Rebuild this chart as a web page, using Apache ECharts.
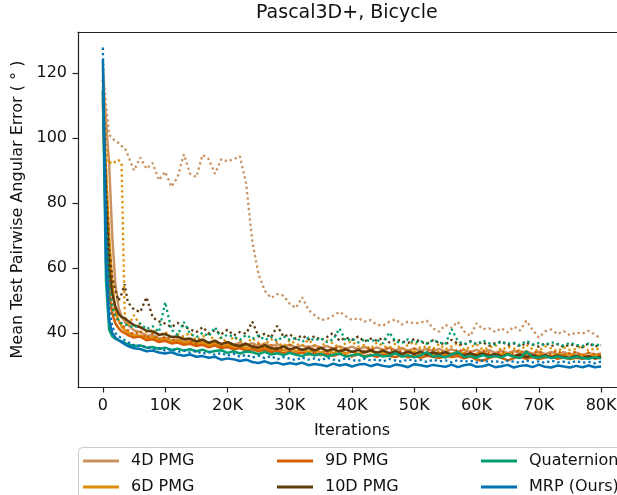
<!DOCTYPE html>
<html lang="en">
  <head>
    <meta charset="utf-8" />
    <title>Pascal3D+, Bicycle</title>
    <script src="https://cdn.jsdelivr.net/npm/echarts@6/dist/echarts.min.js"></script>
    <style>
      html, body { margin: 0; padding: 0; background: #fff; }
      #chart { width: 617px; height: 495px; }
    </style>
  </head>
  <body>
    <div id="chart"></div>
    <script type="text/javascript">
      // iterations (x values)
      var iterations = [
        0, 500, 1000, 1500, 2000, 2500, 3000, 3500,
        4000, 5000, 6000, 7000, 8000, 9000, 10000, 11000, 12000, 13000,
        14000, 15000, 16000, 17000, 18000, 19000, 20000, 21000, 22000, 23000,
        24000, 25000, 26000, 27000, 28000, 29000, 30000, 31000, 32000, 33000,
        34000, 35000, 36000, 37000, 38000, 39000, 40000, 41000, 42000, 43000,
        44000, 45000, 46000, 47000, 48000, 49000, 50000, 51000, 52000, 53000,
        54000, 55000, 56000, 57000, 58000, 59000, 60000, 61000, 62000, 63000,
        64000, 65000, 66000, 67000, 68000, 69000, 70000, 71000, 72000, 73000,
        74000, 75000, 76000, 77000, 78000, 79000, 80000
      ];
      var xTicks = [0, 10000, 20000, 30000, 40000, 50000, 60000, 70000, 80000];
      var yTicks = [40, 60, 80, 100, 120];

      var names = ["4D PMG", "6D PMG", "9D PMG", "10D PMG", "Quaternion", "MRP (Ours)"];
      var colors = ["#CA9161", "#DE8F05", "#D55E00", "#5E3A0C", "#029E73", "#0173B2"];

      // solid lines
      var pmg4 = [
        118, 105, 92, 70, 55, 48, 45, 43.5,
        42.5, 40.8, 40.3, 39.1, 39.4, 38.3, 38.6, 37.7, 38.1, 37.3,
        37.7, 37.1, 37.5, 36.8, 37.6, 36.5, 37.3, 36.4, 37.0, 36.2,
        36.9, 36.0, 36.8, 35.9, 36.6, 35.7, 36.4, 35.6, 36.2, 35.5,
        36.2, 35.4, 36.0, 35.2, 35.9, 35.1, 35.8, 35.0, 35.7, 34.9,
        35.6, 34.8, 35.5, 34.7, 35.4, 34.6, 35.3, 34.5, 35.2, 34.4,
        35.1, 34.3, 35.0, 34.2, 34.9, 34.1, 34.8, 34.0, 34.7, 33.9,
        34.6, 33.8, 34.5, 33.7, 34.4, 33.6, 34.3, 33.5, 34.2, 33.4,
        34.1, 33.3, 34.0, 33.2, 33.9, 33.3, 33.7
      ];
      var pmg6 = [
        110, 90, 70, 55, 47, 44, 42, 41,
        40.2, 39.4, 39.2, 38.4, 38.7, 37.8, 38.1, 37.3, 37.7, 37.0,
        37.3, 36.6, 37.0, 36.3, 36.8, 35.9, 36.4, 35.7, 36.2, 35.4,
        35.9, 35.1, 35.6, 34.8, 35.4, 34.6, 35.2, 34.4, 34.9, 34.2,
        34.8, 34.0, 34.6, 33.9, 34.5, 33.8, 34.3, 33.6, 34.2, 34.5,
        33.7, 34.2, 33.5, 34.0, 33.4, 33.9, 34.3, 33.3, 33.8, 33.5,
        34.0, 33.2, 33.7, 33.4, 33.9, 33.1, 33.6, 34.0, 33.3, 33.0,
        33.6, 33.8, 33.0, 33.5, 33.7, 32.9, 33.4, 33.2, 32.8, 33.5,
        33.1, 33.6, 32.9, 33.3, 32.8, 33.2, 33.0
      ];
      var pmg9 = [
        112, 70, 52, 46, 43, 41.5, 40.5, 40.0,
        39.4, 38.6, 38.9, 37.8, 38.1, 37.2, 37.6, 36.8, 37.1, 36.4,
        36.7, 36.0, 36.4, 35.6, 36.2, 35.3, 35.7, 35.0, 35.4, 34.6,
        35.0, 34.4, 34.9, 34.1, 34.6, 33.7, 34.3, 33.6, 34.0, 33.4,
        33.9, 33.2, 33.7, 33.0, 33.6, 33.1, 32.8, 33.5, 32.9, 33.3,
        32.7, 33.4, 32.9, 32.6, 33.3, 32.5, 33.1, 32.4, 33.0, 32.7,
        32.3, 33.0, 32.6, 32.9, 32.2, 32.8, 31.8, 31.5, 32.3, 32.9,
        32.4, 31.6, 32.3, 32.7, 32.1, 32.6, 32.0, 32.5, 32.8, 32.1,
        32.5, 32.0, 32.4, 32.1, 32.6, 32.2, 32.4
      ];
      var pmg10 = [
        114, 80, 60, 52, 48, 46, 45, 44.5,
        43.8, 42.4, 41.8, 40.7, 40.5, 39.5, 39.7, 38.8, 38.9, 38.1,
        38.3, 37.4, 38.0, 37.0, 37.6, 36.6, 37.2, 36.4, 36.0, 36.7,
        35.8, 35.5, 36.3, 35.3, 35.1, 35.9, 34.9, 35.6, 34.8, 35.4,
        34.6, 35.4, 34.5, 35.1, 34.3, 35.0, 34.2, 34.8, 34.0, 34.7,
        33.9, 34.6, 33.8, 34.4, 33.6, 34.3, 33.5, 34.2, 33.4, 34.0,
        33.5, 34.1, 33.3, 33.9, 33.1, 33.8, 33.0, 33.7, 33.0, 33.6,
        32.8, 33.5, 32.8, 33.4, 32.6, 33.3, 32.6, 33.2, 32.5, 33.1,
        32.6, 32.4, 33.0, 32.3, 32.9, 32.2, 32.8
      ];
      var quat = [
        115, 56, 41, 39, 38.2, 37.8, 37.4, 37.0,
        36.6, 36.0, 36.2, 35.5, 35.7, 35.1, 35.5, 34.8, 35.2, 34.6,
        35.0, 34.4, 34.9, 34.1, 34.5, 34.7, 33.9, 34.4, 33.7, 34.3,
        34.1, 33.5, 34.2, 33.4, 33.8, 33.2, 33.9, 33.3, 32.9, 33.7,
        33.1, 33.6, 32.8, 33.3, 33.7, 32.7, 33.2, 33.5, 32.6, 33.1,
        33.4, 32.8, 33.0, 33.8, 32.7, 33.2, 32.5, 33.1, 34.1, 32.8,
        33.0, 32.5, 33.4, 34.2, 32.6, 32.9, 32.4, 33.2, 32.6, 32.9,
        32.5, 33.4, 32.7, 32.3, 34.3, 32.6, 32.4, 32.9, 32.3, 32.8,
        32.4, 32.2, 32.7, 32.3, 32.1, 32.6, 32.2
      ];
      var mrp = [
        124, 62, 44, 40, 38.6, 37.8, 37.2, 36.6,
        36.0, 35.3, 35.1, 34.4, 34.6, 34.0, 33.7, 34.1, 33.4, 33.0,
        33.4, 32.7, 32.9, 32.4, 32.7, 31.8, 32.2, 31.9, 31.4, 31.8,
        31.1, 30.8, 31.3, 30.6, 30.9, 30.3, 30.8, 30.4, 30.9, 30.1,
        30.5, 30.2, 29.8, 30.6, 30.0, 30.4, 29.7, 30.3, 30.5, 29.8,
        30.4, 29.9, 29.6, 30.3, 30.0, 29.5, 30.4, 30.1, 29.7, 30.2,
        29.9, 29.6, 30.3, 29.5, 30.1, 30.4, 29.6, 29.8, 30.3, 29.5,
        29.8, 30.2, 29.4, 29.9, 30.1, 29.5, 30.3, 29.6, 29.4, 30.0,
        29.7, 29.4, 29.9, 29.5, 30.0, 29.5, 29.7
      ];

      // dotted lines
      var pmg4Dot = [
        122, 110, 101, 100, 99, 98.5, 97.5, 97,
        94.8, 90.0, 94.0, 90.5, 92.3, 87.0, 89.6, 85.0, 88.0, 95.0,
        89.0, 88.0, 94.8, 93.5, 89.0, 93.5, 92.8, 93.5, 94.4, 86.0,
        68.0, 58.0, 53.0, 50.8, 52.0, 51.5, 49.0, 47.7, 51.0, 47.1,
        45.5, 44.0, 44.3, 45.4, 46.5, 45.2, 44.0, 44.6, 43.5, 44.0,
        42.5, 42.3, 43.5, 44.2, 42.6, 43.5, 43.0, 43.2, 43.8, 41.5,
        40.4, 42.5, 41.6, 43.5, 40.5, 39.1, 43.0, 41.2, 41.5, 40.3,
        41.5, 40.2, 42.0, 40.8, 43.8, 41.0, 38.6, 40.5, 41.1, 39.7,
        40.6, 39.3, 40.2, 39.8, 40.7, 39.5, 38.3
      ];
      var pmg6Dot = [
        121, 97, 92, 93, 92.5, 93.2, 92, 46,
        42.0, 45.5, 42.3, 40.1, 41.2, 39.0, 40.4, 38.2, 39.6, 38.9,
        40.1, 37.8, 38.9, 39.7, 37.5, 38.6, 36.9, 38.8, 37.6, 36.8,
        38.4, 37.0, 36.4, 38.1, 37.2, 35.9, 37.8, 36.6, 36.1, 37.9,
        36.2, 35.6, 37.7, 36.8, 35.4, 36.9, 37.4, 35.8, 36.3, 35.2,
        37.1, 36.0, 35.5, 36.7, 34.9, 36.4, 37.2, 35.3, 36.0, 35.1,
        36.6, 35.0, 35.9, 37.0, 34.8, 35.7, 36.5, 34.9, 35.4, 36.3,
        34.7, 35.8, 35.2, 34.6, 36.4, 35.0, 34.5, 35.9, 35.3, 34.4,
        35.6, 34.8, 35.1, 36.2, 34.5, 35.3, 34.9
      ];
      var pmg9Dot = [
        116, 72, 54, 48, 45, 43.5, 42.5, 41.8,
        41.0, 39.5, 40.6, 38.4, 39.9, 37.6, 38.9, 38.2, 37.1, 38.6,
        37.4, 36.6, 38.1, 36.9, 37.8, 35.9, 37.2, 36.4, 35.7, 37.0,
        35.8, 36.7, 35.1, 36.3, 35.5, 34.8, 36.4, 35.2, 34.6, 35.9,
        34.9, 35.6, 34.3, 35.8, 34.7, 35.3, 33.9, 35.0, 34.4, 35.6,
        34.1, 34.8, 35.5, 33.8, 34.6, 34.0, 35.2, 33.6, 34.5, 34.9,
        33.7, 34.4, 33.5, 35.0, 33.9, 34.3, 33.2, 34.7, 33.8, 33.4,
        34.5, 33.3, 34.0, 34.8, 33.1, 33.9, 34.4, 33.2, 33.7, 34.6,
        33.3, 33.8, 34.2, 33.0, 33.9, 33.5, 33.2
      ];
      var pmg10Dot = [
        118, 85, 66, 57, 53, 50, 52, 55,
        49.5, 47.2, 46.5, 51.0, 44.8, 43.6, 42.9, 41.8, 43.1, 42.0,
        41.2, 40.3, 41.8, 39.9, 40.9, 39.6, 41.0, 39.3, 40.3, 39.8,
        43.5, 38.9, 39.8, 38.6, 42.2, 38.9, 39.6, 38.2, 39.3, 38.0,
        39.0, 37.8, 38.8, 40.1, 37.6, 38.6, 37.9, 38.9, 37.4, 38.3,
        37.6, 38.6, 37.1, 38.0, 37.5, 36.9, 38.2, 37.3, 36.7, 37.8,
        37.0, 36.5, 37.9, 36.8, 36.3, 37.5, 36.6, 37.2, 36.1, 36.9,
        37.4, 36.2, 36.8, 35.9, 37.0, 36.4, 35.8, 36.9, 36.0, 36.6,
        35.7, 36.5, 36.1, 35.6, 36.8, 35.9, 36.3
      ];
      var quatDot = [
        119, 75, 55, 48, 45, 44, 43, 42.5,
        42.5, 41.6, 43.0, 41.2, 42.1, 40.3, 49.5, 41.0, 39.4, 43.4,
        39.8, 38.7, 40.1, 39.0, 41.8, 38.5, 39.5, 38.9, 37.9, 39.4,
        38.2, 39.3, 37.8, 38.8, 37.6, 39.0, 37.9, 38.5, 37.3, 38.6,
        37.7, 38.4, 37.2, 38.1, 41.4, 37.6, 38.3, 37.1, 38.0, 37.5,
        37.9, 36.8, 40.2, 37.4, 36.9, 38.1, 37.0, 37.6, 36.7, 37.8,
        37.1, 36.6, 41.2, 37.5, 36.6, 37.3, 36.5, 37.7, 36.9, 36.4,
        37.4, 36.7, 37.0, 36.3, 37.6, 36.5, 36.9, 36.2, 37.2, 36.6,
        36.1, 37.0, 36.4, 36.0, 36.8, 36.2, 36.5
      ];
      var mrpDot = [
        127.8, 70, 48, 42, 40, 39, 38.4, 37.8,
        37.2, 36.3, 36.0, 35.8, 35.0, 35.4, 34.6, 35.1, 34.2, 34.6,
        34.0, 34.5, 33.6, 34.2, 33.3, 33.9, 33.0, 33.6, 32.7, 33.3,
        32.5, 33.0, 32.3, 32.9, 31.9, 32.6, 32.1, 31.7, 32.5, 31.8,
        32.2, 31.6, 32.4, 31.8, 31.5, 32.3, 31.7, 31.4, 32.1, 31.6,
        31.9, 31.3, 32.0, 31.5, 31.2, 31.9, 31.4, 31.7, 31.1, 31.8,
        31.3, 31.6, 31.0, 31.7, 31.2, 31.5, 30.9, 31.6, 31.1, 31.4,
        30.9, 31.5, 31.2, 30.8, 31.6, 31.0, 31.3, 30.8, 31.5, 31.0,
        31.2, 30.8, 31.4, 30.9, 31.1, 30.7, 31.2
      ];

      var solid = [pmg4, pmg6, pmg9, pmg10, quat, mrp];
      var dotted = [pmg4Dot, pmg6Dot, pmg9Dot, pmg10Dot, quatDot, mrpDot];

      function pairs(vals) {
        return iterations.map(function (x, i) { return [x, vals[i]]; });
      }

      var series = [];
      for (var k = 0; k < names.length; k++) {
        series.push({
          name: names[k] + " dotted",
          type: "line",
          data: pairs(dotted[k]),
          symbol: "none",
          silent: true,
          itemStyle: { color: colors[k] },
          lineStyle: { color: colors[k], width: 2.3, type: [2.3, 3] },
        });
        series.push({
          name: names[k],
          type: "line",
          data: pairs(solid[k]),
          symbol: "none",
          itemStyle: { color: colors[k] },
          lineStyle: { color: colors[k], width: 2.5 },
        });
      }

      // legend: 3 columns x 2 rows
      var legX = [83, 83, 277, 277, 481, 481];
      var legY = [451, 477, 451, 477, 451, 477];
      var legends = names.map(function (n, i) {
        return {
          data: [n],
          left: legX[i],
          top: legY[i],
          padding: 0,
          icon: "rect",
          itemWidth: 36,
          itemHeight: 3,
          textStyle: {
            fontFamily: "DejaVu Sans",
            fontSize: 16,
            color: "#111",
            lineHeight: 20,
            padding: [0, 0, 0, 7],
          },
        };
      });

      var font = "DejaVu Sans";
      var chart = echarts.init(document.getElementById("chart"));
      chart.setOption({
        animation: false,
        backgroundColor: "#fff",
        title: {
          text: "Pascal3D+, Bicycle",
          left: 256,
          top: 4,
          padding: 0,
          textStyle: { fontFamily: font, fontSize: 19, fontWeight: "normal", color: "#111" },
        },
        graphic: [
          {
            type: "rect",
            z: -1,
            shape: { x: 78.5, y: 447.5, width: 580, height: 70, r: 4 },
            style: { fill: "#fff", stroke: "#cccccc", lineWidth: 1 },
          },
        ],
        legend: legends,
        grid: {
          left: 78,
          top: 32,
          right: -9,
          bottom: 108,
          outerBoundsMode: "none",
        },
        xAxis: [
          {
            type: "value",
            min: -4000,
            max: 84000,
            name: "Iterations",
            nameLocation: "middle",
            nameGap: 36,
            nameTextStyle: { fontFamily: font, fontSize: 16, color: "#111" },
            splitLine: { show: false },
            axisLine: { show: true, lineStyle: { color: "#222", width: 1.2 } },
            axisTick: { show: true, length: 5.5, customValues: xTicks, lineStyle: { color: "#222", width: 1.2 } },
            axisLabel: {
              margin: 11,
              fontFamily: font,
              fontSize: 16,
              color: "#111",
              customValues: xTicks,
              formatter: function (v) { return v === 0 ? "0" : v / 1000 + "K"; },
            },
          },
          {
            type: "value",
            position: "top",
            min: -4000,
            max: 84000,
            splitLine: { show: false },
            axisLine: { show: true, onZero: false, lineStyle: { color: "#222", width: 1.2 } },
            axisTick: { show: false },
            axisLabel: { show: false },
          },
        ],
        yAxis: {
          type: "value",
          min: 23.4,
          max: 132.6,
          name: "Mean Test Pairwise Angular Error ( ° )",
          nameLocation: "middle",
          nameGap: 47,
          nameTextStyle: { fontFamily: font, fontSize: 16, color: "#111" },
          splitLine: { show: false },
          axisLine: { show: true, onZero: false, lineStyle: { color: "#222", width: 1.2 } },
          axisTick: { show: true, length: 5.5, customValues: yTicks, lineStyle: { color: "#222", width: 1.2 } },
          axisLabel: {
            margin: 11,
            fontFamily: font,
            fontSize: 16,
            color: "#111",
            customValues: yTicks,
          },
        },
        series: series,
      });
    </script>
  </body>
</html>
